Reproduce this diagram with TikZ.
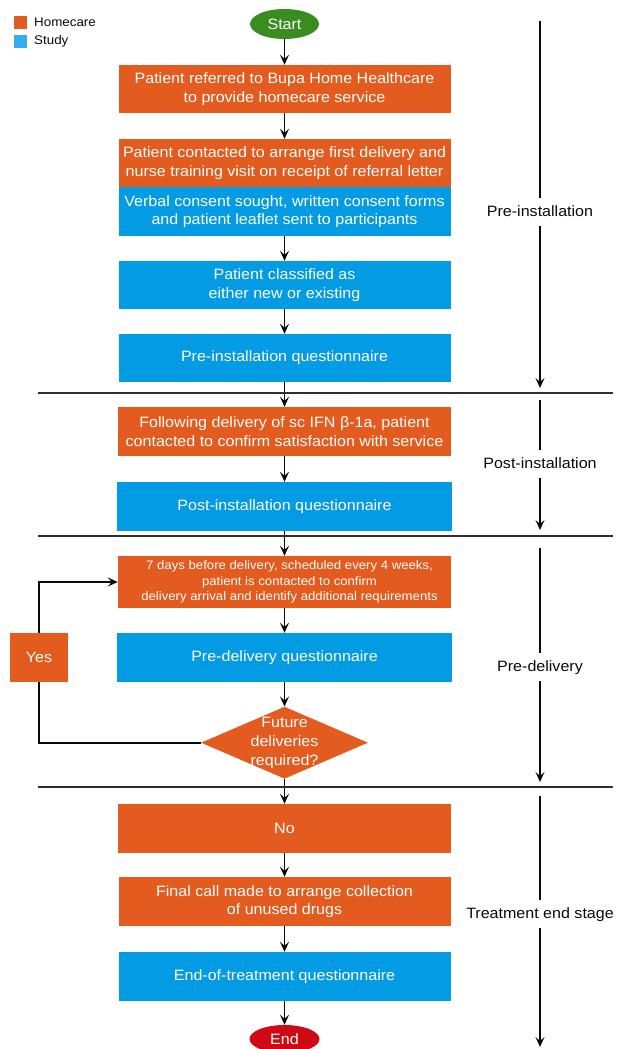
\documentclass[tikz,border=0pt]{standalone}
\usepackage{fontspec}
\setmainfont[FakeStretch=1.07]{Liberation Sans}
\usetikzlibrary{arrows.meta,shapes.geometric}
\definecolor{hc}{HTML}{E35B1E}
\definecolor{st}{HTML}{049BE5}
\definecolor{stl}{HTML}{35ACEF}
\definecolor{grn}{HTML}{3A8C20}
\definecolor{rd}{HTML}{CF0A14}
\definecolor{ink}{HTML}{0A0A0A}
\begin{document}
\begin{tikzpicture}[x=1pt,y=-1pt,
  mainfont/.style={font=\fontsize{15}{18.7}\selectfont},
  hcbox/.style={rectangle, fill=hc, text=white, align=center, inner sep=0pt, mainfont},
  stbox/.style={rectangle, fill=st, text=white, align=center, inner sep=0pt, mainfont},
  term/.style={ellipse, text=white, inner sep=0pt, minimum width=69pt, minimum height=30pt, mainfont},
  arr/.style={draw=ink, line width=1.8pt, -{Stealth[length=10pt,width=9pt,inset=4pt]}},
  plain/.style={draw=ink, line width=1.8pt},
  sep/.style={draw=ink!85, line width=1.8pt},
  stage/.style={text=ink, inner xsep=0pt, inner ysep=7pt, text height=11pt, text depth=3pt, mainfont},
  legtext/.style={text=ink, anchor=west, inner sep=0pt, font=\fontsize{12.5}{15}\selectfont}
]
\useasboundingbox (0,0) rectangle (617,1049);

% legend
\fill[hc] (14,16) rectangle (27,29);
\fill[stl] (14,35) rectangle (27,48);
\node[legtext] (lh) at (34,22.5) {Homecare};
\node[legtext] (ls) at (34,41.5) {Study};

% main flow
\node[term, fill=grn] (start) at (284.5,24) {Start};
\node[hcbox, minimum width=332pt, minimum height=48pt] (b1) at (284.5,89)
  {Patient referred to Bupa Home Healthcare\\to provide homecare service};
\node[hcbox, minimum width=332pt, minimum height=48pt] (b2) at (284.5,163)
  {Patient contacted to arrange first delivery and\\nurse training visit on receipt of referral letter};
\node[stbox, minimum width=332pt, minimum height=49pt] (b3) at (284.5,211.5)
  {Verbal consent sought, written consent forms\\and patient leaflet sent to participants};
\node[stbox, minimum width=332pt, minimum height=48pt] (b4) at (284.5,285)
  {Patient classified as\\either new or existing};
\node[stbox, minimum width=332pt, minimum height=48pt] (b5) at (284.5,358)
  {Pre-installation questionnaire};
\node[hcbox, minimum width=333pt, minimum height=49pt] (b6) at (284.5,431.5)
  {Following delivery of sc IFN β-1a, patient\\contacted to confirm satisfaction with service};
\node[stbox, minimum width=335pt, minimum height=49pt] (b7) at (284.5,506.5)
  {Post-installation questionnaire};
\node[hcbox, minimum width=333pt, minimum height=52pt, font=\fontsize{12.3}{15.7}\selectfont] (b8) at (284.5,582)
  {\hspace*{10pt}7 days before delivery, scheduled every 4 weeks,\\\hspace*{10pt}patient is contacted to confirm\\\hspace*{10pt}delivery arrival and identify additional requirements};
\node[stbox, minimum width=335pt, minimum height=49pt] (b9) at (284.5,657.5)
  {Pre-delivery questionnaire};
\node[diamond, fill=hc, inner sep=0pt, minimum width=167pt, minimum height=72pt,
  label={[text=white, align=center, mainfont]center:Future\\deliveries\\required?}] (dia) at (284.5,742.7) {};
\node[hcbox, minimum width=58pt, minimum height=49pt] (yes) at (39,657.5) {Yes};
\node[hcbox, minimum width=333pt, minimum height=49pt] (b10) at (284.5,828.5) {No};
\node[hcbox, minimum width=332pt, minimum height=49pt] (b11) at (284.5,901.5)
  {Final call made to arrange collection\\of unused drugs};
\node[stbox, minimum width=332pt, minimum height=49pt] (b12) at (284.5,976.5)
  {End-of-treatment questionnaire};
\node[term, fill=rd, minimum width=70pt, minimum height=28pt] (end) at (284.5,1039) {End};

% connectors
\draw[arr] (start) -- (b1);
\draw[arr] (b1) -- (b2);
\draw[arr] (b3) -- (b4);
\draw[arr] (b4) -- (b5);
\draw[arr] (b5) -- (b6);
\draw[arr] (b6) -- (b7);
\draw[arr] (b7) -- (b8);
\draw[arr] (b8) -- (b9);
\draw[arr] (b9) -- (dia);
\draw[arr] (dia) -- (b10);
\draw[arr] (b10) -- (b11);
\draw[arr] (b11) -- (b12);
\draw[arr] (b12) -- (end);
\draw[plain] (dia.west) -| (yes.south);
\draw[arr] (yes.north) |- (b8.west);

% separators
\draw[sep] (38,393) -- (613,393);
\draw[sep] (38,536) -- (613,536);
\draw[sep] (38,787) -- (613,787);

% stage arrows
\coordinate (s1t) at (540,21);
\coordinate (s1b) at (540,388);
\node[stage] (s1) at (540,212) {Pre-installation};
\draw[plain] (s1t) -- (s1);
\draw[arr] (s1) -- (s1b);

\coordinate (s2t) at (540,400);
\coordinate (s2b) at (540,530);
\node[stage] (s2) at (540,464) {Post-installation};
\draw[plain] (s2t) -- (s2);
\draw[arr] (s2) -- (s2b);

\coordinate (s3t) at (540,548);
\coordinate (s3b) at (540,782);
\node[stage] (s3) at (540,667) {Pre-delivery};
\draw[plain] (s3t) -- (s3);
\draw[arr] (s3) -- (s3b);

\coordinate (s4t) at (540,796);
\coordinate (s4b) at (540,1047);
\node[stage] (s4) at (540,914) {Treatment end stage};
\draw[plain] (s4t) -- (s4);
\draw[arr] (s4) -- (s4b);
\end{tikzpicture}
\end{document}
